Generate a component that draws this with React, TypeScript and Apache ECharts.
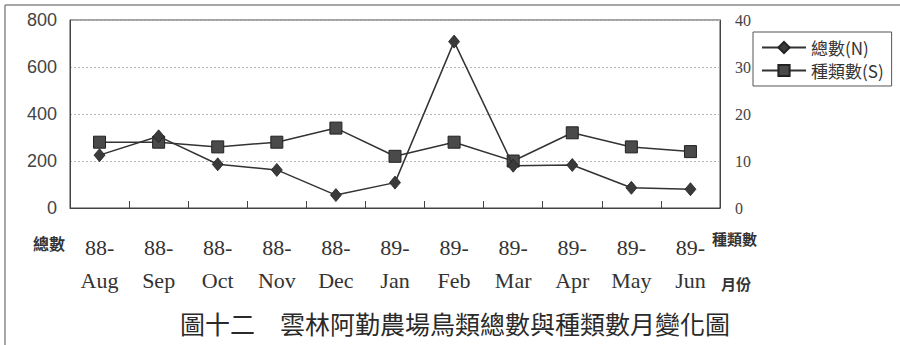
import React, { useEffect, useRef } from "react";
import * as echarts from "echarts";

// Months (ROC year 88–89)
const monthYears = ["88-", "88-", "88-", "88-", "88-", "89-", "89-", "89-", "89-", "89-", "89-"];
const monthNames = ["Aug", "Sep", "Oct", "Nov", "Dec", "Jan", "Feb", "Mar", "Apr", "May", "Jun"];

// Total birds counted (N), left axis
const totalCount = [225, 305, 186, 162, 55, 108, 708, 180, 183, 86, 80];
// Number of species (S), right axis
const speciesCount = [14, 14, 13, 14, 17, 11, 14, 10, 16, 13, 12];

const leftTicks = { min: 0, max: 800, interval: 200 };
const rightTicks = { min: 0, max: 40, interval: 10 };

const seriesNames = ["總數(N)", "種類數(S)"];
const titleText = "圖十二　雲林阿勤農場鳥類總數與種類數月變化圖";

const SERIF = "'Liberation Serif', 'Times New Roman', serif";
const CJK = "'Noto Sans CJK TC', 'Noto Sans CJK SC', sans-serif";
const INK = "#333";

export default function App() {
  const ref = useRef<HTMLDivElement>(null);

  useEffect(() => {
    if (!ref.current) return;
    const chart = echarts.init(ref.current, undefined, { renderer: "svg" });

    const categories = monthYears.map((y, i) => `${y}\n${monthNames[i]}`);

    chart.setOption({
      animation: false,
      backgroundColor: "#ffffff",
      grid: {
        left: 70,
        right: 180,
        top: 20,
        bottom: 137,
        show: true,
        borderColor: "#444",
        borderWidth: 1,
        backgroundColor: "transparent",
      },
      legend: {
        orient: "vertical",
        left: 753,
        top: 32,
        width: 145,
        padding: [7, 8, 7, 8],
        itemGap: 6,
        itemWidth: 44,
        itemHeight: 14,
        borderColor: "#555",
        borderWidth: 1,
        data: seriesNames,
        textStyle: { fontFamily: CJK, fontSize: 17, color: INK },
      },
      xAxis: {
        type: "category",
        data: categories,
        boundaryGap: true,
        axisLine: { show: true, lineStyle: { color: "#444", width: 1 } },
        axisTick: { show: true, inside: true, length: 7, lineStyle: { color: "#444" } },
        axisLabel: {
          fontFamily: SERIF,
          fontSize: 22,
          lineHeight: 33,
          margin: 23,
          color: INK,
          interval: 0,
        },
      },
      yAxis: [
        {
          type: "value",
          ...leftTicks,
          axisLine: { show: true, lineStyle: { color: "#444" } },
          axisTick: { show: false },
          axisLabel: {
            fontFamily: "'Liberation Sans Narrow', 'Liberation Sans', sans-serif",
            fontSize: 18,
            margin: 13,
            color: "#444",
          },
          splitLine: { show: true, lineStyle: { color: "#b5b5b5", type: [2, 2], width: 1 } },
        },
        {
          type: "value",
          ...rightTicks,
          axisLine: { show: true, lineStyle: { color: "#444" } },
          axisTick: { show: false },
          axisLabel: { fontFamily: SERIF, fontSize: 16, margin: 15, color: "#444" },
          splitLine: { show: false },
        },
      ],
      series: [
        {
          name: seriesNames[0],
          type: "line",
          yAxisIndex: 0,
          data: totalCount,
          symbol: "diamond",
          symbolSize: [11, 13],
          lineStyle: { color: INK, width: 1.5 },
          itemStyle: { color: "#3a3a3a", borderColor: "#222", borderWidth: 0.8 },
          z: 3,
        },
        {
          name: seriesNames[1],
          type: "line",
          yAxisIndex: 1,
          data: speciesCount,
          symbol: "rect",
          symbolSize: 12,
          lineStyle: { color: INK, width: 1.5 },
          itemStyle: { color: "#4a4a4a", borderColor: "#222", borderWidth: 1 },
          z: 2,
        },
      ],
      graphic: [
        // frame lines around the figure
        { type: "line", shape: { x1: 5, y1: 5, x2: 900, y2: 5 }, style: { stroke: "#8a8a8a", lineWidth: 1.5 } },
        { type: "line", shape: { x1: 5, y1: 5, x2: 5, y2: 345 }, style: { stroke: "#8a8a8a", lineWidth: 1.5 } },
        {
          type: "text",
          x: 33,
          y: 243,
          style: { text: "總數", font: `bold 16px ${CJK}`, fill: INK, verticalAlign: "middle" },
        },
        {
          type: "text",
          x: 712,
          y: 238,
          style: { text: "種類數", font: `bold 15px ${CJK}`, fill: INK, verticalAlign: "middle" },
        },
        {
          type: "text",
          x: 721,
          y: 283,
          style: { text: "月份", font: `bold 15px ${CJK}`, fill: INK, verticalAlign: "middle" },
        },
        {
          type: "text",
          x: 455,
          y: 323,
          style: {
            text: titleText,
            font: `25px ${CJK}`,
            fill: "#2a2a2a",
            align: "center",
            verticalAlign: "middle",
          },
        },
      ],
    });

    return () => chart.dispose();
  }, []);

  return (
    <div
      ref={ref}
      style={{ position: "fixed", left: 0, top: 0, width: 900, height: 345 }}
    />
  );
}
